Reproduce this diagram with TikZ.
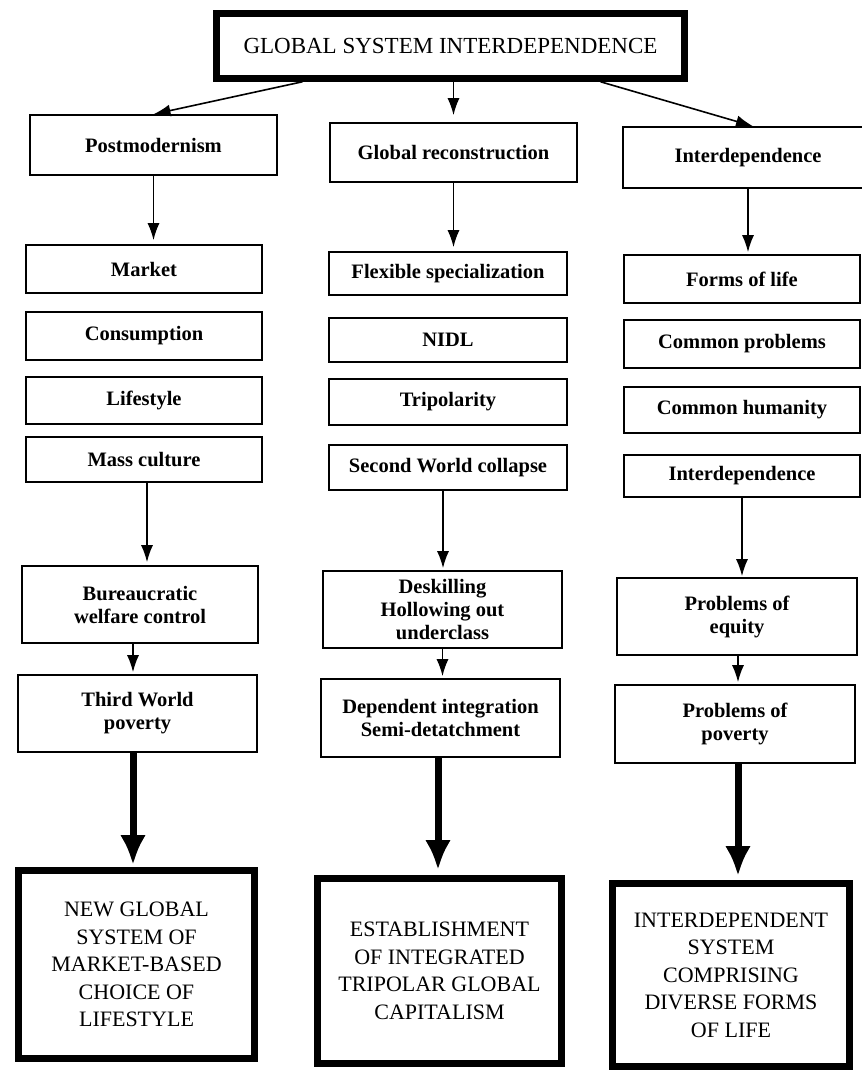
\documentclass[tikz,border=0pt]{standalone}
\usepackage{fontspec}
\newfontfamily\labelfont{Liberation Serif}
\usetikzlibrary{arrows.meta,calc}
\begin{document}
\begin{tikzpicture}[x=1pt,y=-1pt,
  box/.style={draw, line width=1.6pt, inner sep=0pt, align=center,
    font=\labelfont\bfseries\fontsize{20.5}{23}\selectfont},
  lbox/.style={box, minimum width=236pt},
  mbox/.style={box, minimum width=238pt},
  rbox/.style={box, minimum width=236pt},
  bigbox/.style={draw, line width=7pt, inner sep=0pt, align=center,
    font=\labelfont\fontsize{22}{27.5}\selectfont},
  arr/.style={-{Latex[length=17pt,width=12pt]}, line width=1.6pt},
  thickarr/.style={-{Latex[length=30pt,width=26pt]}, line width=7pt}
]
\fill[white] (0,0) rectangle (862,1072);
\useasboundingbox (0,0) rectangle (862,1072);

% top
\node[bigbox, line width=6.5pt, minimum width=468pt, minimum height=65pt,
  font=\labelfont\fontsize{23}{26}\selectfont] (top) at (450.5,46) {GLOBAL SYSTEM INTERDEPENDENCE};

% level 1
\node[box, minimum width=247pt, minimum height=60pt] (post) at (153.5,145) {Postmodernism};
\node[box, minimum width=247pt, minimum height=59pt] (glob) at (453.5,152.5) {Global reconstruction};
\node[box, minimum width=250pt, minimum height=61pt] (inta) at (748,157.5) {Interdependence};

% left column
\node[lbox, minimum height=48pt] (market) at (144,269) {Market};
\node[lbox, minimum height=48pt] (cons) at (144,336) {Consumption};
\node[lbox, minimum height=47pt] (life) at (144,400.5) {Lifestyle};
\node[lbox, minimum height=45pt] (mass) at (144,459.5) {Mass culture};

% middle column
\node[mbox, minimum height=43pt] (flex) at (448,273.5) {Flexible specialization};
\node[mbox, minimum height=44pt] (nidl) at (448,340) {NIDL};
\node[mbox, minimum height=46pt] (trip) at (448,402) {Tripolarity};
\node[mbox, minimum height=45pt] (second) at (448,467.5) {Second World collapse};

% right column
\node[rbox, minimum height=48pt] (forms) at (742,279) {Forms of life};
\node[rbox, minimum height=48pt] (cprob) at (742,344) {Common problems};
\node[rbox, minimum height=46pt] (chum) at (742,410) {Common humanity};
\node[rbox, minimum height=42pt] (intb) at (742,476) {Interdependence};

% level 3
\node[box, minimum width=236pt, minimum height=77pt] (bureau) at (140,604.5) {Bureaucratic\\welfare control};
\node[box, minimum width=239pt, minimum height=77pt] (desk) at (442.5,609.5) {Deskilling\\Hollowing out\\underclass};
\node[box, minimum width=240pt, minimum height=77pt] (equity) at (737,616.5) {Problems of\\equity};

% level 4
\node[box, minimum width=239pt, minimum height=77pt] (third) at (137.5,713.5) {Third World\\poverty};
\node[box, minimum width=239pt, minimum height=78pt] (dep) at (440.5,718) {Dependent integration\\Semi-detatchment};
\node[box, minimum width=240pt, minimum height=78pt] (pov) at (735,724) {Problems of\\poverty};

% final
\node[bigbox, minimum width=236pt, minimum height=188pt] (fa) at (136.5,964.5) {NEW GLOBAL\\SYSTEM OF\\MARKET-BASED\\CHOICE OF\\LIFESTYLE};
\node[bigbox, minimum width=244pt, minimum height=185pt] (fb) at (439.5,971) {ESTABLISHMENT\\OF INTEGRATED\\TRIPOLAR GLOBAL\\CAPITALISM};
\node[bigbox, minimum width=237pt, minimum height=183pt] (fc) at (731,975) {INTERDEPENDENT\\SYSTEM\\COMPRISING\\DIVERSE FORMS\\OF LIFE};

% connectors from top
\draw[arr] ([xshift=-148pt]top.south) -- (post.north);
\draw[arr, shorten >=7pt] (top.south -| glob.north) -- (glob.north);
\draw[arr] ([xshift=150pt]top.south) -- ([xshift=5pt]inta.north);

% level 1 -> level 2
\draw[arr, shorten >=4pt] (post.south) -- (post.south |- market.north);
\draw[arr, shorten >=4pt] (glob.south) -- (glob.south |- flex.north);
\draw[arr, shorten >=2pt] (inta.south) -- (inta.south |- forms.north);

% level 2 -> level 3
\draw[arr, shorten >=3pt] ([xshift=3pt]mass.south) -- ([xshift=3pt]mass.south |- bureau.north);
\draw[arr, shorten >=2pt] ([xshift=-5pt]second.south) -- ([xshift=-5pt]second.south |- desk.north);
\draw[arr, shorten >=1pt] (intb.south) -- (intb.south |- equity.north);

% level 3 -> level 4
\draw[arr, shorten >=2pt] ([xshift=-7pt]bureau.south) -- ([xshift=-7pt]bureau.south |- third.north);
\draw[arr, shorten >=2pt] (desk.south) -- (desk.south |- dep.north);
\draw[arr, shorten >=2pt] ([xshift=1pt]equity.south) -- ([xshift=1pt]equity.south |- pov.north);

% level 4 -> final
\draw[thickarr, shorten >=2pt] ([xshift=-4.5pt]third.south) -- ([xshift=-4.5pt]third.south |- fa.north);
\draw[thickarr, shorten >=5pt] ([xshift=-2.5pt]dep.south) -- ([xshift=-2.5pt]dep.south |- fb.north);
\draw[thickarr, shorten >=4pt] ([xshift=3pt]pov.south) -- ([xshift=3pt]pov.south |- fc.north);
\end{tikzpicture}
\end{document}
